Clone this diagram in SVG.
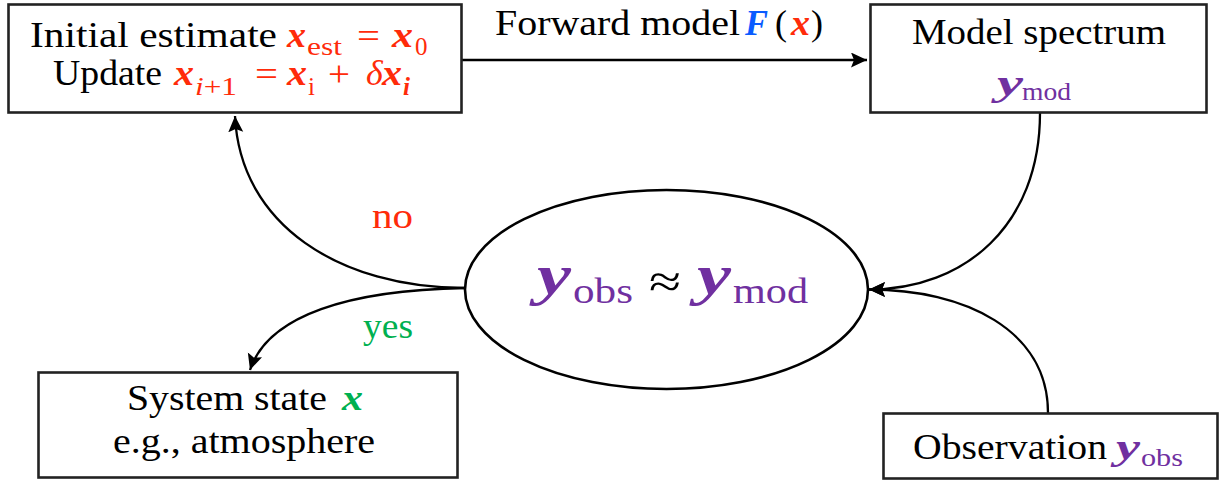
<svg xmlns="http://www.w3.org/2000/svg" width="1229" height="481" viewBox="0 0 1229 481">
<style>
.box{fill:#fff;stroke:#222;stroke-width:2.6}
.ell{fill:#fff;stroke:#000;stroke-width:2.6}
.t{font-family:"Liberation Serif",serif;font-size:35px;fill:#000}
.m{font-family:"Liberation Serif",serif;font-weight:bold;font-style:italic;font-size:36px}
.s{font-family:"Liberation Serif",serif;font-size:25px}
.op{font-family:"Liberation Serif",serif;font-size:36px}
.red{fill:#ff2b0a}.pur{fill:#7030a0}.grn{fill:#00b050}.blu{fill:#0a5cff}.blk{fill:#000}
.con{fill:none;stroke:#000;stroke-width:2.3}
</style>
<defs>
<marker id="ah" markerUnits="userSpaceOnUse" markerWidth="17" markerHeight="16" refX="16" refY="7.5" orient="auto">
<path d="M0,0 L16,7.5 L0,15 L3,7.5 z" fill="#000"/>
</marker>
</defs>
<g id="connectors">
<path class="con" d="M461,60 H867" marker-end="url(#ah)"/>
<path class="con" d="M1040,113 C1040,225 965,289.5 869,289.5" marker-end="url(#ah)"/>
<path class="con" d="M1048,413 C1048,330 965,289.5 869,289.5" marker-end="url(#ah)"/>
<path class="con" d="M465,288 C340,288 240,225 235,116" marker-end="url(#ah)"/>
<path class="con" d="M465,288 C350,290 268,315 250,370" marker-end="url(#ah)"/>
<text class="t" x="495" y="35" textLength="245" lengthAdjust="spacingAndGlyphs">Forward model</text>
<text class="m blu" x="745" y="35" textLength="23" lengthAdjust="spacingAndGlyphs">F</text>
<text class="op blk" x="775" y="35">(</text>
<text class="m red" x="791" y="35" textLength="19" lengthAdjust="spacingAndGlyphs">x</text>
<text class="op blk" x="811" y="35">)</text>
<text class="t red" x="372" y="228" textLength="41" lengthAdjust="spacingAndGlyphs">no</text>
<text class="t grn" x="363" y="338" textLength="50" lengthAdjust="spacingAndGlyphs">yes</text>
</g>
<g id="initial">
<rect class="box" x="8.5" y="4.5" width="453" height="108"/>
<text class="t" x="30" y="47" textLength="247" lengthAdjust="spacingAndGlyphs">Initial estimate</text>
<text class="m red" x="287" y="47" textLength="19" lengthAdjust="spacingAndGlyphs">x</text>
<text class="s red" x="307" y="55" textLength="35" lengthAdjust="spacingAndGlyphs">est</text>
<text class="op red" x="357" y="48" textLength="23" lengthAdjust="spacingAndGlyphs">=</text>
<text class="m red" x="392" y="47" textLength="21" lengthAdjust="spacingAndGlyphs">x</text>
<text class="s red" x="415" y="55">0</text>
<text class="t" x="53" y="85" textLength="109" lengthAdjust="spacingAndGlyphs">Update</text>
<text class="m red" x="174" y="85" textLength="20" lengthAdjust="spacingAndGlyphs">x</text>
<text class="s red" x="195" y="95" textLength="42" lengthAdjust="spacingAndGlyphs"><tspan style="font-style:italic">i</tspan>+1</text>
<text class="op red" x="255" y="86" textLength="23" lengthAdjust="spacingAndGlyphs">=</text>
<text class="m red" x="287" y="85" textLength="20" lengthAdjust="spacingAndGlyphs">x</text>
<text class="s red" x="308" y="95">i</text>
<text class="op red" x="328" y="86" textLength="22" lengthAdjust="spacingAndGlyphs">+</text>
<text class="m red" x="366" y="85" style="font-weight:normal">δ</text>
<text class="m red" x="382" y="85" textLength="20" lengthAdjust="spacingAndGlyphs">x</text>
<text class="s red" x="403" y="95" style="font-style:italic;font-weight:bold">i</text>
</g>
<g id="model">
<rect class="box" x="870.5" y="4.5" width="336" height="108"/>
<text class="t" x="912" y="44" textLength="254" lengthAdjust="spacingAndGlyphs">Model spectrum</text>
<text class="m pur" x="997" y="95" textLength="26" lengthAdjust="spacingAndGlyphs">y</text>
<text class="s pur" x="1022" y="100" textLength="49" lengthAdjust="spacingAndGlyphs">mod</text>
</g>
<g id="compare">
<ellipse class="ell" cx="666.5" cy="289.5" rx="201.5" ry="99.5"/>
<text class="m pur" x="537" y="294" style="font-size:56px" textLength="34" lengthAdjust="spacingAndGlyphs">y</text>
<text class="s pur" x="573" y="303" style="font-size:36px" textLength="60" lengthAdjust="spacingAndGlyphs">obs</text>
<text class="op blk" x="649" y="297" style="font-size:46px" textLength="32" lengthAdjust="spacingAndGlyphs">≈</text>
<text class="m pur" x="697" y="294" style="font-size:56px" textLength="34" lengthAdjust="spacingAndGlyphs">y</text>
<text class="s pur" x="733" y="303" style="font-size:36px" textLength="75" lengthAdjust="spacingAndGlyphs">mod</text>
</g>
<g id="system">
<rect class="box" x="38.5" y="372.5" width="419" height="105"/>
<text class="t" x="127" y="410" textLength="200" lengthAdjust="spacingAndGlyphs">System state</text>
<text class="m grn" x="342" y="410" textLength="21" lengthAdjust="spacingAndGlyphs">x</text>
<text class="t" x="113" y="453" textLength="262" lengthAdjust="spacingAndGlyphs">e.g., atmosphere</text>
</g>
<g id="observation">
<rect class="box" x="883.5" y="413.5" width="334" height="65"/>
<text class="t" x="913" y="459" textLength="194" lengthAdjust="spacingAndGlyphs">Observation</text>
<text class="m pur" x="1116" y="459" textLength="24" lengthAdjust="spacingAndGlyphs">y</text>
<text class="s pur" x="1141" y="466" textLength="42" lengthAdjust="spacingAndGlyphs">obs</text>
</g>
</svg>
